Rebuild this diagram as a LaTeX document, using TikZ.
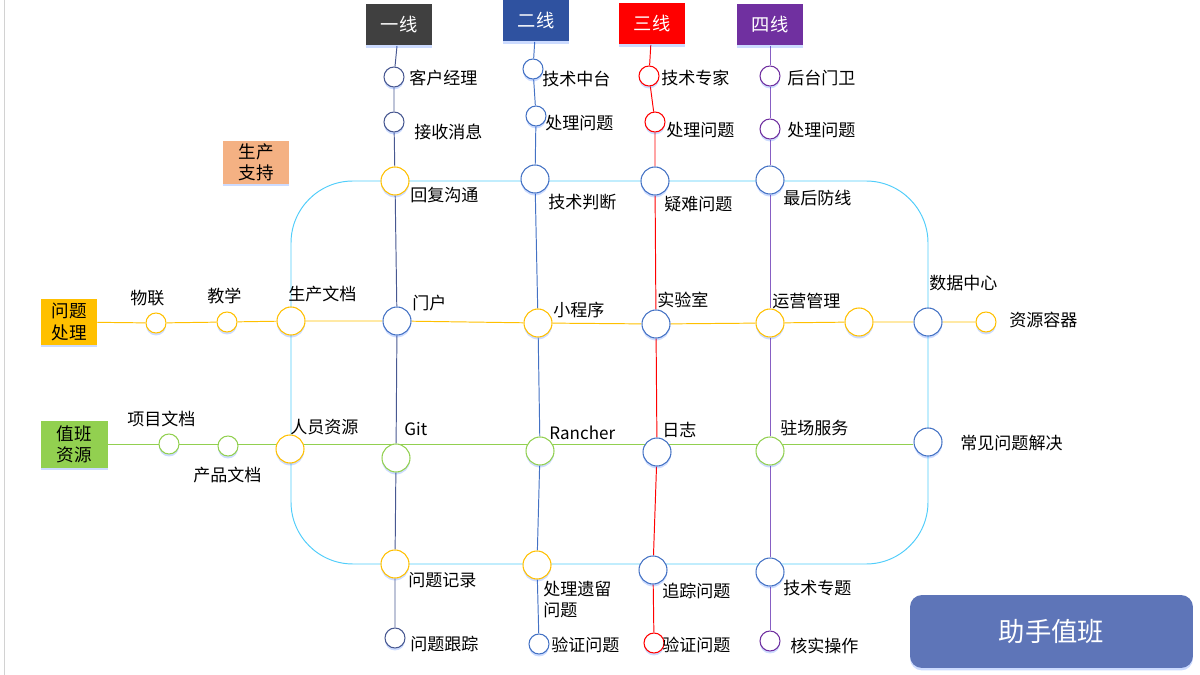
\documentclass[tikz,border=0pt]{standalone}
\usepackage{fontspec}
\setmainfont{Noto Sans CJK SC}
\usepackage{xcolor}
\usetikzlibrary{shapes,positioning,calc,shadows}
\definecolor{boxone}{RGB}{64,64,64}
\definecolor{boxtwo}{RGB}{47,82,160}
\definecolor{lineone}{RGB}{72,88,145}
\definecolor{linetwo}{RGB}{68,114,196}
\definecolor{purp}{RGB}{112,48,160}
\definecolor{purpline}{RGB}{135,95,195}
\definecolor{yel}{RGB}{255,192,0}
\definecolor{grn}{RGB}{146,208,80}
\definecolor{blu}{RGB}{68,114,196}
\definecolor{ringcol}{RGB}{80,205,250}
\definecolor{peach}{RGB}{244,177,131}
\definecolor{helper}{RGB}{94,117,184}
\pgfdeclarelayer{bg}
\pgfsetlayers{bg,main}
\tikzset{
    glow/.style={drop shadow={shadow xshift=0pt, shadow yshift=-1.4pt, opacity=0.2, fill=blue!70!cyan}},
    stn/.style={circle, draw=#1, line width=0.6pt, fill=white, minimum size=0.4cm, inner sep=0pt, glow},
    bigstn/.style={stn=#1, minimum size=0.56cm},
    lbl/.style={anchor=west, inner sep=0pt, font=\fontsize{9.7}{12}\selectfont},
    linebox/.style={fill=#1, text=white, minimum width=1.33cm, minimum height=0.82cm, inner sep=0pt, font=\fontsize{10.4}{12}\selectfont, glow},
    sidebox/.style={fill=#1, text=black, align=center, inner sep=0pt, font=\fontsize{10}{12.2}\selectfont, glow},
    track/.style={draw=#1, line width=0.55pt}
}
\begin{document}
\begin{tikzpicture}[x=0.02cm, y=-0.02cm]
        \useasboundingbox (0,0) rectangle (1200,675);
        \draw[gray!35] (4,0) -- (4,675);

        \node[linebox=boxone] (b1) at (399,25) {一线};
        \node[linebox=boxtwo] (b2) at (536,21) {二线};
        \node[linebox=red] (b3) at (652,24) {三线};
        \node[linebox=purp] (b4) at (770,25) {四线};
        \node[sidebox=yel, minimum width=1.12cm, minimum height=0.92cm] (qp) at (69,322) {问题\\处理};
        \node[sidebox=grn, minimum width=1.34cm, minimum height=0.94cm] (zbzy) at (74.5,444.5) {值班\\资源};
        \node[sidebox=peach, minimum width=1.34cm, minimum height=0.86cm] (sczc) at (256,162.5) {生产\\支持};
        \node[fill=helper, text=white, rounded corners=0.24cm, minimum width=5.66cm, minimum height=1.46cm, font=\fontsize{15}{18}\selectfont, glow] (zsbz) at (1051.5,631.5) {助手值班};

        \node[stn=lineone] (a1) at (394,77) {};
        \node[stn=lineone] (a2) at (394,122) {};
        \node[bigstn=yel] (a3) at (395,181) {};
        \node[bigstn=blu] (a4) at (397,321) {};
        \node[bigstn=grn] (a5) at (396,458) {};
        \node[bigstn=yel] (a6) at (395,564) {};
        \node[stn=lineone] (a7) at (395,638) {};

        \node[stn=linetwo] (c1) at (533,69) {};
        \node[stn=linetwo] (c2) at (536,116) {};
        \node[bigstn=blu] (c3) at (535,179) {};
        \node[bigstn=yel] (c4) at (538,323) {};
        \node[bigstn=grn] (c5) at (540,451) {};
        \node[bigstn=yel] (c6) at (537,565) {};
        \node[stn=linetwo] (c7) at (539,644) {};

        \node[stn=red] (d1) at (649,76) {};
        \node[stn=red] (d2) at (655,122) {};
        \node[bigstn=blu] (d3) at (655,181) {};
        \node[bigstn=blu] (d4) at (656,324) {};
        \node[bigstn=blu] (d5) at (657,452) {};
        \node[bigstn=blu] (d6) at (653,570) {};
        \node[stn=red] (d7) at (654,643) {};

        \node[stn=purp] (e1) at (770,76) {};
        \node[stn=purp] (e2) at (770,129) {};
        \node[bigstn=blu] (e3) at (770,180) {};
        \node[bigstn=yel] (e4) at (770,323) {};
        \node[bigstn=grn] (e5) at (770,451) {};
        \node[bigstn=blu] (e6) at (770,572) {};
        \node[stn=purp] (e7) at (770,641) {};

        \node[stn=yel] (wl) at (156,323) {};
        \node[stn=yel] (jx) at (227,322) {};
        \node[bigstn=yel] (scwd) at (291,321) {};
        \node[bigstn=yel] (yx) at (859,322) {};
        \node[bigstn=blu] (sjzx) at (928,322) {};
        \node[stn=yel] (zyrq) at (986,322) {};

        \node[stn=grn] (xmwd) at (169,444) {};
        \node[stn=grn] (cpwd) at (228,446) {};
        \node[bigstn=yel] (ryzy) at (290,449) {};
        \node[bigstn=blu] (cjwt) at (928,442) {};

        \begin{pgfonlayer}{bg}
        \draw[track=ringcol, rounded corners=1.24cm] (scwd.center |- a3.center) rectangle (sjzx.center |- a6.center);
        \draw[track=yel] (qp) -- (wl) -- (jx) -- (scwd) -- (a4) -- (c4) -- (d4) -- (e4) -- (yx) -- (sjzx) -- (zyrq);
        \draw[track=grn] (zbzy.east) -- (zbzy.east -| cjwt.west);
        \draw[track=lineone] (b1) -- (a1) -- (a2) -- (a3) -- (a4) -- (a5) -- (a6) -- (a7);
        \draw[track=linetwo] (b2) -- (c1) -- (c2) -- (c3) -- (c4) -- (c5) -- (c6) -- (c7);
        \draw[track=red] (b3) -- (d1) -- (d2) -- (d3) -- (d4) -- (d5) -- (d6) -- (d7);
        \draw[track=purpline] (b4) -- (e1) -- (e2) -- (e3) -- (e4) -- (e5) -- (e6) -- (e7);
        \end{pgfonlayer}

        \node[lbl] (ta1) at (409,78) {客户经理};
        \node[lbl] (ta2) at (414,132) {接收消息};
        \node[lbl] (ta3) at (410,195) {回复沟通};
        \node[lbl] (ta4) at (412,303) {门户};
        \node[lbl] (ta5) at (404,429) {Git};
        \node[lbl] (ta6) at (408,580) {问题记录};
        \node[lbl] (ta7) at (410,644) {问题跟踪};

        \node[lbl] (tc1) at (542,79) {技术中台};
        \node[lbl] (tc2) at (545,123) {处理问题};
        \node[lbl] (tc3) at (548,202) {技术判断};
        \node[lbl] (tc4) at (553,310) {小程序};
        \node[lbl] (tc5) at (549,433) {Rancher};
        \node[lbl, anchor=north west, align=left] (tc6) at (543,581) {处理遗留\\问题};
        \node[lbl] (tc7) at (551,645) {验证问题};

        \node[lbl] (td1) at (661,78) {技术专家};
        \node[lbl] (td2) at (666,130) {处理问题};
        \node[lbl] (td3) at (664,204) {疑难问题};
        \node[lbl] (td4) at (657,300) {实验室};
        \node[lbl] (td5) at (662,430) {日志};
        \node[lbl] (td6) at (662,591) {追踪问题};
        \node[lbl] (td7) at (662,645) {验证问题};

        \node[lbl] (te1) at (787,78) {后台门卫};
        \node[lbl] (te2) at (787,130) {处理问题};
        \node[lbl] (te3) at (783,198) {最后防线};
        \node[lbl] (te4) at (772,301) {运营管理};
        \node[lbl] (te5) at (780,428) {驻场服务};
        \node[lbl] (te6) at (783,588) {技术专题};
        \node[lbl] (te7) at (790,646) {核实操作};

        \node[lbl] (twl) at (130,298) {物联};
        \node[lbl] (tjx) at (207,296) {教学};
        \node[lbl] (tscwd) at (288,294) {生产文档};
        \node[lbl] (tsjzx) at (929,283) {数据中心};
        \node[lbl] (tzyrq) at (1009,320) {资源容器};
        \node[lbl] (txmwd) at (127,419) {项目文档};
        \node[lbl] (tcpwd) at (193,475) {产品文档};
        \node[lbl] (tryzy) at (290,427) {人员资源};
        \node[lbl] (tcjwt) at (960,443) {常见问题解决};
    \end{tikzpicture}
\end{document}
